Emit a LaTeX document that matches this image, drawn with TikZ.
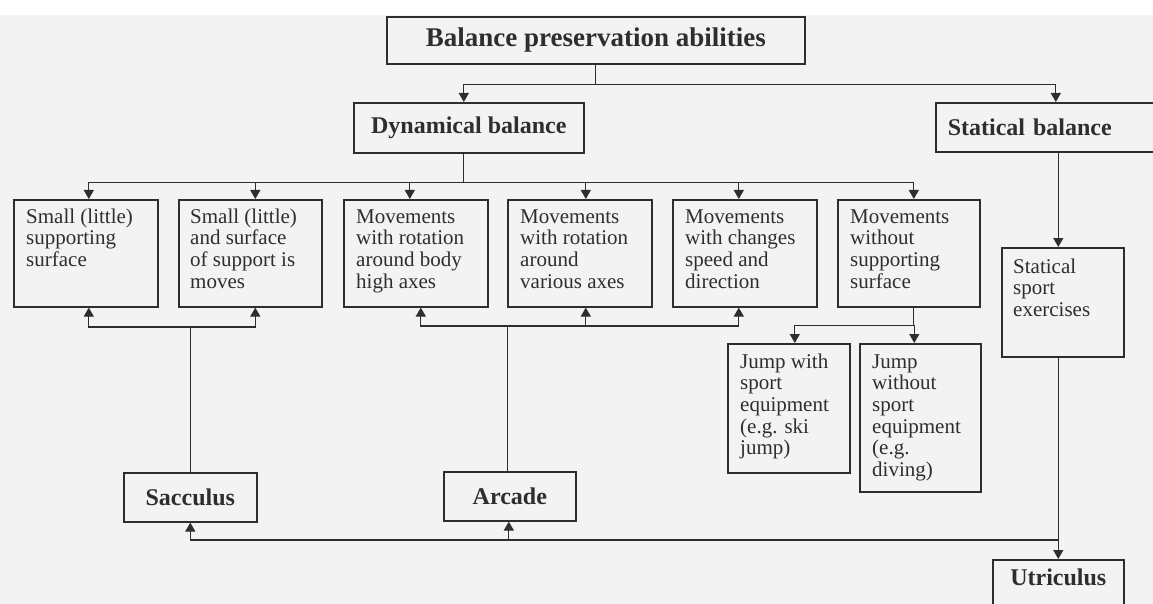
\documentclass[tikz,border=0pt]{standalone}
\usepackage{fontspec}
\setmainfont{Liberation Serif}
\usetikzlibrary{arrows.meta}
\definecolor{ink}{HTML}{2E2E2E}
\definecolor{paper}{HTML}{F3F3F3}

% framed box with left-aligned lines of text set from its top-left corner
\newcommand\tbox[8]{% name, x, y, width, height, text x-offset, first baseline offset, lines
  \node[frame, minimum width=#4pt, minimum height=#5pt] (#1) at (#2,#3) {};
  \node[body] (#1-t) at ([xshift=#6pt,yshift=-#7pt]#1.north west)
    {\begin{tabular}[t]{@{}l@{}}#8\end{tabular}};
}

\begin{document}
\begin{tikzpicture}[x=1pt,y=-1pt,
  frame/.style={draw=ink, line width=1.6pt, anchor=north west, inner sep=0pt},
  body/.style={anchor=base west, inner sep=0pt, text=ink,
               font=\fontsize{21}{21.7}\selectfont},
  head/.style={frame, text=ink, font=\bfseries\fontsize{24}{26}\selectfont},
  wire/.style={draw=ink, line width=1.2pt},
  arr/.style={wire, -{Triangle[width=10pt,length=9pt]}},
]
\fill[white] (0,0) rectangle (1153,604);
\fill[paper] (0,15) rectangle (1153,604);
\clip (0,0) rectangle (1153,604);

% headings
\node[head, minimum width=418pt, minimum height=47pt,
      font=\bfseries\fontsize{27}{30}\selectfont] (top) at (386,16)
      {Balance preservation abilities};
\node[head, minimum width=230pt, minimum height=50pt] (dyn) at (353,102)
      {Dynamical balance};
\node[head, minimum width=240pt, minimum height=49pt, inner xsep=12pt,
      text width=216pt, align=left] (stat) at (935,102) {Statical balance};

% dynamical balance branches
\tbox{b1}{13}{199}{144}{107}{13}{24}{Small (little)\\ supporting\\ surface}
\tbox{b2}{178}{199}{143}{107}{12}{24}{Small (little)\\ and surface\\ of support is\\ moves}
\tbox{b3}{343}{199}{144}{107}{13}{24}{Movements\\ with rotation\\ around body\\ high axes}
\tbox{b4}{507}{199}{144}{107}{13}{24}{Movements\\ with rotation\\ around\\ various axes}
\tbox{b5}{672}{199}{144}{107}{13}{24}{Movements\\ with changes\\ speed and\\ direction}
\tbox{b6}{837}{199}{142}{107}{13}{24}{Movements\\ without\\ supporting\\ surface}

% jumps
\tbox{j1}{727}{343}{122}{129}{13}{25}{Jump with\\ sport\\ equipment\\ (e.g. ski\\ jump)}
\tbox{j2}{859}{343}{121}{148}{13}{25}{Jump\\ without\\ sport\\ equipment\\ (e.g.\\ diving)}

% statical branch
\tbox{sport}{1001}{247}{122}{109}{12}{26}{Statical\\ sport\\ exercises}

% receptors
\node[head, minimum width=133pt, minimum height=49pt] (sac) at (123,472) {Sacculus};
\node[head, minimum width=132pt, minimum height=49pt] (arc) at (443,471) {Arcade};
\node[head, minimum width=131pt, minimum height=60pt, text height=16pt,
      text depth=24pt] (utr) at (992,559) {Utriculus};

% top level split
\draw[wire] (top.south) -- ++(0,20) coordinate (jt);
\draw[arr] (jt) -| ([xshift=-5pt]dyn.north);
\draw[arr] (jt) -| (stat.north);

% dynamical balance fan-out
\draw[wire] ([xshift=-5pt]dyn.south) -- ++(0,29) coordinate (jd);
\foreach \n/\s in {b1/3,b2/5,b3/-6,b4/6,b5/-6,b6/5}
  \draw[arr] (jd) -| ([xshift=\s pt]\n.north);

% sacculus feeds
\draw[wire] (sac.north) -- ++(0,-145) coordinate (js);
\draw[arr] (js) -| ([xshift=3pt]b1.south);
\draw[arr] (js) -| ([xshift=5pt]b2.south);

% arcade feeds
\draw[wire] ([xshift=-2pt]arc.north) -- ++(0,-145) coordinate (ja);
\draw[arr] (ja) -| ([xshift=5pt]b3.south);
\draw[arr] (ja) -| ([xshift=6pt]b4.south);
\draw[arr] (ja) -| ([xshift=-6pt]b5.south);

% movements without support split into jumps
\draw[wire] ([xshift=5pt]b6.south) -- ++(0,18) coordinate (jj);
\draw[arr] (jj) -| ([xshift=6pt]j1.north);
\draw[arr] (jj) -| ([xshift=-6pt]j2.north);

% statical chain and bottom return line
\draw[arr] (stat.south -| utr.north) -- (sport.north -| utr.north);
\draw[arr] (sport.south -| utr.north) -- (utr.north);
\draw[arr] ([yshift=19pt]utr.north) -| (sac.south);
\draw[arr] ([yshift=19pt]utr.north) -| ([xshift=-1pt]arc.south);
\end{tikzpicture}
\end{document}
